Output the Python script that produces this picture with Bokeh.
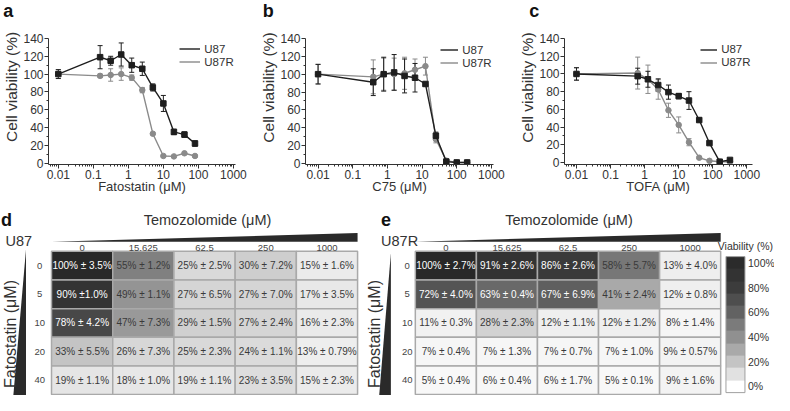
import numpy as np
from bokeh.plotting import figure
from bokeh.layouts import column, row
from bokeh.models import (ColumnDataSource, Range1d, Whisker, TeeHead, Legend, LegendItem,
                          Label, Title, FixedTicker, CustomJSTickFormatter, LinearColorMapper, ColorBar,
                          PrintfTickFormatter)
from bokeh.transform import linear_cmap
from bokeh.embed import file_html
from bokeh.resources import INLINE

# ---------------- data ----------------
# panel a: Fatostatin
fato_dose = [0.01, 0.156, 0.3125, 0.625, 1.25, 2.5, 5, 10, 20, 40, 80]
fato_u87 = [100, 119, 115, 122, 110, 106, 85, 67, 35, 32, 22]
fato_u87_err = [5, 13, 5, 13, 8, 7.5, 4, 9, 3, 3, 3]
fato_u87r = [100, 98, 99, 100, 96, 82, 33, 8, 7.5, 11, 8]
fato_u87r_err = [5, 2, 7, 7, 3, 3, 1, 1, 1, 1, 1]

# panel b: C75
c75_dose = [0.01, 0.390625, 0.78125, 1.5625, 3.125, 6.25, 12.5, 25, 50, 100, 200]
c75_u87 = [100, 91, 100, 102, 98, 96, 89, 31, 2, 1, 1]
c75_u87_err = [11, 15, 19, 20, 19, 16, 2, 4, 1, 1, 1]
c75_u87r = [100, 97, 100, 100, 101, 105, 109, 27, 3, 1, 1]
c75_u87r_err = [11, 19, 18, 18, 18, 12, 10, 4, 1, 1, 1]

# panel c: TOFA
tofa_dose = [0.01, 0.625, 1.25, 2.5, 5, 10, 20, 40, 80, 160, 320]
tofa_u87 = [100, 97.5, 94, 87.5, 79.5, 75, 70, 48, 22, 1, 3]
tofa_u87_err = [7, 9, 9, 7, 8, 3, 10, 2, 2, 1, 1]
tofa_u87r = [100, 101, 94, 82.5, 59, 42.5, 23, 5.5, 2, 1, 1]
tofa_u87r_err = [7, 18, 16, 11, 8, 9, 4, 1, 1, 1, 1]

# heatmaps d / e
tmz_doses = ["0", "15.625", "62.5", "250", "1000"]
fato_levels = ["0", "5", "10", "20", "40"]
d_mean = [[100, 55, 25, 30, 15],
          [90, 49, 27, 27, 17],
          [78, 47, 29, 27, 16],
          [33, 26, 25, 24, 13],
          [19, 18, 19, 23, 15]]
d_sem = [["± 3.5", "± 1.2", "± 2.5", "± 7.2", "± 1.6"],
         ["±1.0", "± 1.1", "± 6.5", "± 7.0", "± 3.5"],
         ["± 4.2", "± 7.3", "± 1.5", "± 2.4", "± 2.3"],
         ["± 5.5", "± 7.3", "± 2.3", "± 1.1", "± 0.79"],
         ["± 1.1", "± 1.0", "± 1.1", "± 3.5", "± 2.3"]]
e_mean = [[100, 91, 86, 58, 13],
          [72, 63, 67, 41, 12],
          [11, 28, 12, 12, 8],
          [7, 7, 7, 7, 9],
          [5, 6, 6, 5, 9]]
e_sem = [["± 2.7", "± 2.6", "± 2.6", "± 5.7", "± 4.0"],
         ["± 4.0", "± 0.4", "± 6.9", "± 2.4", "± 0.8"],
         ["± 0.3", "± 2.3", "± 1.1", "± 1.2", "± 1.4"],
         ["± 0.4", "± 1.3", "± 0.7", "± 1.0", "± 0.57"],
         ["± 0.4", "± 0.4", "± 1.7", "± 0.1", "± 1.6"]]
cb_ticks = [0, 20, 40, 60, 80, 100]

# ---------------- styles ----------------
FONT = "Liberation Sans"
SX = 774 / 790
SY = 395 / 411
SPLIT = 206            # reference y where the top row ends
TOP_H = 198
BOT_H = 395 - TOP_H
BLACK = "#1e1e1e"
GREY = "#8a8a8a"
TXT = "#333333"

cb_palette = ["#ffffff", "#e1e1e1", "#c4c4c4", "#a9a9a9", "#909090", "#7b7b7b",
              "#626262", "#4e4e4e", "#3c3c3c", "#333333", "#2b2b2b"]
_anchor_v = [0, 10, 20, 30, 40, 50, 60, 70, 80, 90, 100]
_anchor_g = [255, 242, 228, 206, 172, 145, 112, 88, 68, 52, 40]
cell_palette = ["#%02x%02x%02x" % (g, g, g)
                for g in np.interp(np.arange(101), _anchor_v, _anchor_g).round().astype(int)]


def dose_panel(letter, xlabel, dose, m1, e1, m2, e2, ref):
    fl, fr = ref["fig"]
    L, R, T, B = ref["frame"]
    X001, dec = ref["x"]
    Y0, Y140 = ref["y"]
    pl, pr = round(fl * SX), round(fr * SX)
    W = pr - pl
    bl = round(L * SX) - pl
    br = pr - round(R * SX)
    bt = round(T * SY)
    bb = TOP_H - round(B * SY)
    k = (Y0 - Y140) / 140
    yr = Range1d(-(B - Y0) / k, 140 + (Y140 - T) / k)
    xr = Range1d(10 ** (-2 - (X001 - L) / dec), 10 ** (-2 + (R - X001) / dec))
    p = figure(width=W, height=TOP_H, x_axis_type="log", x_range=xr, y_range=yr,
               output_backend="svg", toolbar_location=None,
               min_border_left=bl, min_border_right=br, min_border_top=bt, min_border_bottom=bb)
    p.outline_line_color = None
    p.grid.visible = False
    for ax in (p.xaxis[0], p.yaxis[0]):
        ax.axis_line_color = TXT
        ax.axis_line_width = 1
        ax.major_tick_line_color = TXT
        ax.minor_tick_line_color = TXT
        ax.major_tick_in = 0
        ax.major_tick_out = 4
        ax.minor_tick_in = 0
        ax.minor_tick_out = 2
        ax.major_label_text_font = FONT
        ax.major_label_text_font_size = "12px"
        ax.major_label_text_color = TXT
        ax.major_label_standoff = 1
    p.xaxis.ticker = FixedTicker(ticks=[0.01, 0.1, 1, 10, 100, 1000],
                                 minor_ticks=[m * 10.0 ** e for e in range(-3, 4) for m in range(2, 10)])
    p.xaxis.formatter = CustomJSTickFormatter(code="return tick.toString();")
    p.yaxis.ticker = FixedTicker(ticks=list(range(0, 141, 20)), minor_ticks=list(range(10, 141, 20)))

    # x axis title
    p.xaxis.axis_label = xlabel
    p.xaxis.axis_label_text_font = FONT
    p.xaxis.axis_label_text_font_size = "13px"
    p.xaxis.axis_label_text_font_style = "normal"
    p.xaxis.axis_label_text_color = TXT
    p.xaxis.axis_label_standoff = -3

    # y axis title as a side title, its upper end placed as in the reference
    ytop = ref["ylab_top"]
    p.add_layout(Title(text="Cell viability (%)", align="right", offset=(ytop - T) * SY,
                       text_font=FONT, text_font_size="15.5px", text_font_style="normal",
                       text_color=TXT, standoff=1), "left")

    # panel letter
    lx = ref["letter_x"]
    p.title.text = letter + "\n"
    p.title.align = "left"
    p.title.vertical_align = "top"
    p.title.offset = (lx - L) * SX - 5
    p.title.text_font = FONT
    p.title.text_font_size = "18px"
    p.title.text_font_style = "bold"
    p.title.text_color = "#111111"
    p.title.standoff = -8

    s1 = ColumnDataSource(dict(x=dose, y=m1, lo=[a - b for a, b in zip(m1, e1)],
                               hi=[a + b for a, b in zip(m1, e1)]))
    s2 = ColumnDataSource(dict(x=dose, y=m2, lo=[a - b for a, b in zip(m2, e2)],
                               hi=[a + b for a, b in zip(m2, e2)]))
    rend = {}
    for src, col, mk, key in ((s2, GREY, "circle", "r"), (s1, BLACK, "square", "b")):
        p.add_layout(Whisker(source=src, base="x", upper="hi", lower="lo", line_color=col, line_width=1,
                             upper_head=TeeHead(size=5, line_color=col, line_width=1),
                             lower_head=TeeHead(size=5, line_color=col, line_width=1)))
        rend[key] = p.line("x", "y", source=src, line_color=col, line_width=1.4)
        p.scatter("x", "y", source=src, marker=mk, size=5.5, color=col)

    # legend: one Legend per entry so that each row sits where the reference has it
    gx, gw, y1, y2 = ref["legend"]
    item_h = 13
    for lab, key, yc in (("U87", "b", y1), ("U87R", "r", y2)):
        leg = Legend(items=[LegendItem(label=lab, renderers=[rend[key]])],
                     location=((gx - L) * SX, (B - yc) * SY - item_h / 2),
                     padding=0, margin=0, spacing=0,
                     glyph_width=int(round(gw * SX)), glyph_height=item_h, label_height=item_h,
                     label_standoff=4, label_text_font=FONT, label_text_font_size="11.5px",
                     label_text_color=TXT, label_text_baseline="middle",
                     border_line_alpha=0, background_fill_alpha=0)
        p.add_layout(leg)
    return p


ref_a = dict(fig=(0, 262), frame=(44, 240, 39, 171.5), x=(54.3, 36.7), y=(170, 39),
             legend=(178, 21, 51.5, 65), letter_x=3, ylab_top=32)
ref_b = dict(fig=(262, 527), frame=(304, 503, 38.3, 170.5), x=(317.3, 36.7), y=(169.3, 38.3),
             legend=(442, 18, 51.5, 65), letter_x=265.5, ylab_top=32)
ref_c = dict(fig=(527, 790), frame=(569, 768, 39.3, 171), x=(581.7, 36.06), y=(169, 39.3),
             legend=(708, 17, 51.5, 65), letter_x=538, ylab_top=33)

pa = dose_panel("a", "Fatostatin (μM)", fato_dose, fato_u87, fato_u87_err, fato_u87r, fato_u87r_err, ref_a)
pb = dose_panel("b", "C75 (μM)", c75_dose, c75_u87, c75_u87_err, c75_u87r, c75_u87r_err, ref_b)
pc = dose_panel("c", "TOFA (μM)", tofa_dose, tofa_u87, tofa_u87_err, tofa_u87r, tofa_u87r_err, ref_c)

# ---------------- heatmaps ----------------
CELL_W = 62.4
CELL_H = 29.8
TAB_TOP = 261


def v_of(y):
    return (y - TAB_TOP) / CELL_H - 0.5


def heat_panel(letter, cell_line, mean, sem, ref):
    fl, fr = ref["fig"]
    x0 = ref["tab_left"]

    def u_of(x):
        return (x - x0) / CELL_W - 0.5

    W = round(fr * SX) - round(fl * SX)
    p = figure(width=W, height=BOT_H, x_range=Range1d(u_of(fl), u_of(fr)),
               y_range=Range1d(v_of(411), v_of(SPLIT)), output_backend="svg", toolbar_location=None,
               x_axis_location=None, y_axis_location=None, min_border=0)
    p.outline_line_color = None
    p.grid.visible = False

    cols, rows, vals, labels, tcols = [], [], [], [], []
    for i, fl_lab in enumerate(fato_levels):
        for j, tz in enumerate(tmz_doses):
            cols.append(j)
            rows.append(i)
            vals.append(mean[i][j])
            labels.append(f"{mean[i][j]}% {sem[i][j]}%")
            tcols.append("white" if mean[i][j] >= 60 else "#3a3a3a")
    src = ColumnDataSource(dict(col=cols, row=rows, val=vals, label=labels, tcol=tcols))
    p.rect("col", "row", width=1, height=1, source=src,
           fill_color=linear_cmap("val", cell_palette, 0, 100), line_color="#a9a9a9", line_width=1.5)
    p.text("col", "row", text="label", source=src, text_color="tcol", text_font_size="10px",
           text_font={"value": FONT}, text_align="center", text_baseline="middle")

    # column headers and row labels
    hsrc = ColumnDataSource(dict(x=list(range(len(tmz_doses))), y=[v_of(257)] * len(tmz_doses), t=tmz_doses))
    p.text("x", "y", text="t", source=hsrc, text_color="#444444", text_font_size="9.5px",
           text_font={"value": FONT}, text_align="center", text_baseline="middle")
    rsrc = ColumnDataSource(dict(x=[u_of(ref["rowlab_x"])] * len(fato_levels),
                                 y=list(range(len(fato_levels))), t=fato_levels))
    p.text("x", "y", text="t", source=rsrc, text_color="#444444", text_font_size="9.5px",
           text_font={"value": FONT}, text_align="center", text_baseline="middle")

    n = len(tmz_doses)
    # horizontal gradient wedge above the table
    p.patch([-0.5, n - 0.5, n - 0.5], [v_of(251), v_of(242), v_of(251)], color="#2a2a2a", line_width=0)
    # vertical gradient wedge at the left
    wr, wl, wt = ref["vwedge"]
    p.patch([u_of(wr), u_of(wr), u_of(wl)], [v_of(wt), v_of(412), v_of(412)], color="#2a2a2a", line_width=0)

    p.add_layout(Label(x=u_of(ref["tmz_x"]), y=v_of(228), text="Temozolomide (μM)", text_font=FONT,
                       text_font_size="14.5px", text_color=TXT, text_align="center", text_baseline="middle"))
    p.add_layout(Label(x=u_of(ref["fato_x"]), y=v_of(347), text="Fatostatin (μM)", angle=np.pi / 2,
                       text_font=FONT, text_font_size="16px", text_color=TXT,
                       text_align="center", text_baseline="middle"))
    lx, ly = ref["letter"]
    p.add_layout(Label(x=u_of(lx), y=v_of(ly), text=letter, text_font=FONT, text_font_style="bold",
                       text_font_size="18px", text_color="#111111", text_align="left", text_baseline="middle"))
    cx, cy = ref["cell"]
    p.add_layout(Label(x=u_of(cx), y=v_of(cy), text=cell_line, text_font=FONT, text_font_size="14.5px",
                       text_color=TXT, text_align="left", text_baseline="middle"))
    return p, u_of


ref_d = dict(fig=(0, 368), tab_left=52, rowlab_x=40, vwedge=(26, 13, 259), tmz_x=211, fato_x=10,
             letter=(0.5, 228), cell=(5, 250))
ref_e = dict(fig=(368, 790), tab_left=423, rowlab_x=414.7, vwedge=(398, 386, 263), tmz_x=580, fato_x=381,
             letter=(388, 228), cell=(388, 250))

pd_, ud = heat_panel("d", "U87", d_mean, d_sem, ref_d)
pe_, ue = heat_panel("e", "U87R", e_mean, e_sem, ref_e)

# colour bar for the heatmaps
cb_mapper = LinearColorMapper(palette=cb_palette, low=-5, high=105)
cb = ColorBar(color_mapper=cb_mapper, ticker=FixedTicker(ticks=cb_ticks),
              formatter=PrintfTickFormatter(format="%d%%"),
              location=((740 - 368) * SX, (411 - 408) * SY), width=19, height=int(round(141 * SY)),
              padding=0, margin=0, label_standoff=3, major_tick_line_color=None, minor_tick_line_color=None,
              major_label_text_font=FONT, major_label_text_font_size="10.5px", major_label_text_color=TXT,
              bar_line_color="#a0a0a0", border_line_alpha=0, background_fill_alpha=0)
pe_.add_layout(cb)
pe_.add_layout(Label(x=ue(732), y=v_of(255), text="Viability (%)", text_font=FONT, text_font_size="10.5px",
                     text_color=TXT, text_align="left", text_baseline="middle"))

layout = column(row(pa, pb, pc, spacing=0), row(pd_, pe_, spacing=0), spacing=0)

open("out.html", "w").write(file_html(layout, INLINE))
